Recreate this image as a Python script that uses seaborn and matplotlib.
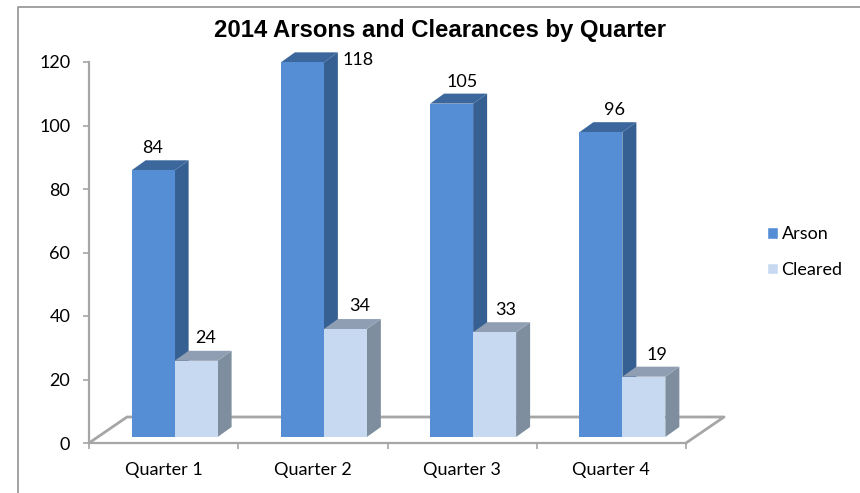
import pandas as pd
import seaborn as sns
import matplotlib.pyplot as plt
from matplotlib.lines import Line2D
from matplotlib.patches import Polygon, Patch

# --- Data ---
quarters = ['Quarter 1', 'Quarter 2', 'Quarter 3', 'Quarter 4']
arson = [84, 118, 105, 96]
cleared = [24, 34, 33, 19]
y_ticks = [0, 20, 40, 60, 80, 100, 120]

# --- Style ---
W, H = 860, 493
FRONT = {'Arson': '#558ed5', 'Cleared': '#c6d9f1'}
SIDE = {'Arson': '#376092', 'Cleared': '#7f8e9e'}
TOP = {'Arson': '#3b679c', 'Cleared': '#8f9eb2'}
AXIS_GREY = '#a6a6a6'
DEPTH_PX = (14, 10)
FLOOR_PX = (38, 26)

# label nudges in px from the bar centre / top, the 118 sits beside its bar
LABEL_NUDGE = {
    'Arson': [(-1, 22), (56, 2), (11, 22), (14, 22)],
    'Cleared': [(10, 23), (14, 23), (11, 22), (13, 22)],
}


def px_axes(fig, left, right, bottom, top):
    return fig.add_axes([left / W, 1 - bottom / H, (right - left) / W, (bottom - top) / H])


sns.set_theme(style="white")
plt.rcParams['font.family'] = ['Lato', 'DejaVu Sans']

fig = plt.figure(figsize=(W / 100, H / 100), dpi=100)

# outer frame only shows on left and top
fig.add_artist(Line2D([18 / W, 18 / W, 1], [0, 1 - 7 / H, 1 - 7 / H], color='#9a9a9a', lw=1.3))

# --- Axis layer ---
ax = px_axes(fig, 89, 686, 443, 62)
ax.set_xlim(-0.5, 3.5)
ax.set_ylim(0, 120)
sns.despine(ax=ax)
for side in ['left', 'bottom']:
    ax.spines[side].set_color(AXIS_GREY)
    ax.spines[side].set_linewidth(1.6)
ax.set_yticks(y_ticks)
ax.set_xticks([-0.5, 0.5, 1.5, 2.5, 3.5])
ax.set_xticklabels([])
ax.set_xticks(range(4), quarters, minor=True)
ax.tick_params(axis='y', left=True, length=4.5, width=1.2, color=AXIS_GREY, labelsize=13, pad=9, labelcolor='black')
ax.tick_params(axis='x', which='major', bottom=True, length=4, width=1.2, color=AXIS_GREY)
ax.tick_params(axis='x', which='minor', bottom=False, length=0, labelsize=13, pad=14, labelcolor='black')

# floor of the 3D box
x_unit = (686 - 89) / 4
y_unit = (443 - 62) / 120
fx, fy = FLOOR_PX[0] / x_unit, FLOOR_PX[1] / y_unit
ax.plot([-0.5, -0.5 + fx, 3.5 + fx, 3.5], [0, fy, fy, 0], color=AXIS_GREY, lw=2, clip_on=False, zorder=1)

# --- Bars, shifted up and right like the front of the 3D plot ---
bars_ax = px_axes(fig, 100, 697, 437, 56)
bars_ax.patch.set_alpha(0)

df = pd.DataFrame({
    'quarter': quarters * 2,
    'value': arson + cleared,
    'series': ['Arson'] * 4 + ['Cleared'] * 4,
})
sns.barplot(data=df, x='quarter', y='value', hue='series', palette=FRONT, saturation=1,
            width=0.576, gap=0, legend=False, linewidth=0, ax=bars_ax)
bars_ax.set_xlim(-0.5, 3.5)
bars_ax.set_ylim(0, 120)
bars_ax.axis('off')

dx, dy = DEPTH_PX[0] / x_unit, DEPTH_PX[1] / y_unit
for container, series, values in zip(bars_ax.containers, ['Arson', 'Cleared'], [arson, cleared]):
    for i, bar in enumerate(container):
        x0, x1 = bar.get_x(), bar.get_x() + bar.get_width()
        h = bar.get_height()
        bar.set_zorder(3)
        bars_ax.add_patch(Polygon([(x1, 0), (x1 + dx, dy), (x1 + dx, h + dy), (x1, h)],
                                  facecolor=SIDE[series], edgecolor='none', clip_on=False, zorder=2))
        bars_ax.add_patch(Polygon([(x0, h), (x0 + dx, h + dy), (x1 + dx, h + dy), (x1, h)],
                                  facecolor=TOP[series], edgecolor='none', clip_on=False, zorder=2))
        bars_ax.annotate(str(values[i]), ((x0 + x1) / 2, h), xytext=LABEL_NUDGE[series][i],
                         textcoords=('offset pixels'), ha='center', va='center', fontsize=13,
                         color='black', annotation_clip=False, zorder=5)

# --- Title and legend ---
fig.text(440 / W, 1 - 31 / H, '2014 Arsons and Clearances by Quarter', family='Liberation Sans',
         fontweight='bold', fontsize=17.2, ha='center', va='center', color='black')

handles = [Patch(facecolor=FRONT[s], label=s) for s in ['Arson', 'Cleared']]
fig.legend(handles=handles, loc='center left', bbox_to_anchor=(767 / W, 1 - 252 / H), frameon=False,
           fontsize=13, labelspacing=1.1, handlelength=0.61, handleheight=0.61, handletextpad=0.2,
           borderpad=0, borderaxespad=0, labelcolor='black')

fig.savefig('out.png', dpi=100)
